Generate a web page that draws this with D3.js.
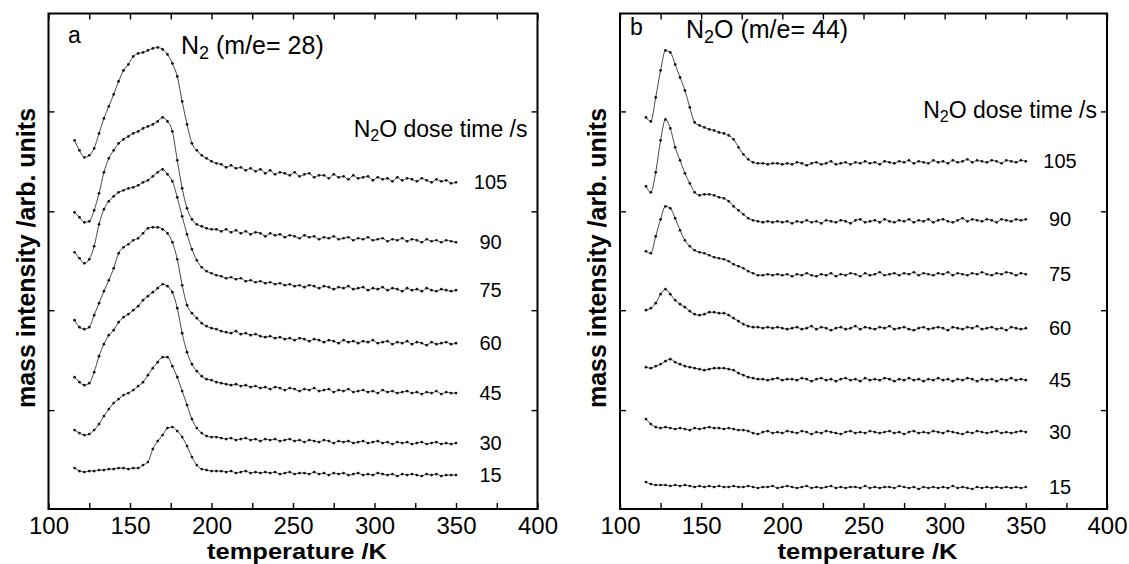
<!DOCTYPE html>
<html><head><meta charset="utf-8">
<script src="https://cdn.jsdelivr.net/npm/d3@7"></script>
<style>
html,body{margin:0;padding:0;background:#fff;}
svg{display:block;font-family:"Liberation Sans",Arial,Helvetica,sans-serif;}
</style></head><body>
<svg id="chart" width="1129" height="564"></svg>
<script>
// ---------- data ----------
const temperatures = [116,119,122,125,128,131,134,137,140,143,146,149,152,155,158,161,164,167,170,173,176,179,182,185,188,191,194,197,200,203,206,209,212,215,218,221,224,227,230,233,236,239,242,245,248,251,254,257,260,263,266,269,272,275,278,281,284,287,290,293,296,299,302,305,308,311,314,317,320,323,326,329,332,335,338,341,344,347,350];
const doseTimes = [105, 90, 75, 60, 45, 30, 15];

// panel a: N2 (m/e = 28), offset intensities (arb. units)
const n2_105 = [369,359,352,354,361,376,391,403,415,428,439,445,453,456,457,459,461,462,460,455,446,433,408,385,366,359,354,351,348,346,345,342,344,341,342,339,341,338,340,336,339,335,337,336,334,337,333,335,336,332,334,334,331,335,332,333,330,334,331,332,333,329,332,330,331,328,332,329,331,330,328,331,329,327,330,328,329,326,327];
const n2_90 = [297,292,287,288,299,316,337,351,359,366,370,373,376,378,381,383,385,388,392,388,378,349,321,301,290,285,283,281,280,280,278,280,277,279,276,278,275,277,276,273,276,274,275,272,274,273,271,274,272,273,270,272,271,273,270,271,272,269,271,270,272,269,270,271,268,270,269,271,268,270,269,267,270,268,269,267,269,268,267];
const n2_75 = [257,251,246,250,263,285,300,308,313,317,319,321,322,324,327,329,333,337,340,335,328,312,293,275,260,249,242,238,236,234,233,231,232,230,231,228,229,227,228,226,227,225,226,224,225,223,224,222,224,223,221,223,222,220,222,221,223,220,221,222,219,221,220,222,219,221,220,218,221,219,220,218,221,219,218,220,219,218,219];
const n2_60 = [189,182,180,182,194,206,218,229,241,256,262,265,269,271,276,281,282,282,280,276,267,250,224,204,196,191,186,183,181,180,178,177,176,178,175,176,174,175,173,172,173,171,172,170,171,169,171,170,168,170,169,167,169,168,166,169,167,168,166,168,167,169,166,167,168,165,167,166,168,165,167,166,164,167,165,166,167,165,166];
const n2_45 = [132,127,124,126,137,153,165,174,179,187,192,195,199,203,209,213,217,221,225,223,217,201,176,157,145,138,133,130,129,127,126,125,124,125,123,124,122,123,121,122,120,122,121,119,121,120,118,120,119,121,118,119,120,117,119,118,120,117,118,119,117,118,116,119,117,118,116,117,118,116,117,115,117,116,118,115,117,116,116];
const n2_30 = [79,76,74,75,79,85,93,100,106,110,114,116,119,123,127,134,141,147,152,152,143,132,118,104,90,81,76,73,72,72,71,70,71,69,70,71,69,70,68,70,69,70,68,69,70,68,69,67,69,68,67,69,68,66,68,67,68,66,67,68,66,67,68,66,67,65,67,66,67,65,66,67,65,66,67,65,66,65,66];
const n2_15 = [41,38,37,38,38,39,39,40,40,41,41,40,41,41,44,47,60,68,74,81,82,78,72,63,52,44,40,39,38,38,38,37,38,36,37,38,36,37,36,37,36,37,35,36,37,35,36,36,35,37,35,36,34,36,35,36,34,35,36,34,35,34,36,35,34,35,33,35,34,35,34,33,35,34,35,33,34,34,34];

// panel b: N2O (m/e = 44)
const n2o_105 = [392,388,412,439,459,457,445,432,419,402,387,384,382,380,379,377,376,374,370,362,355,350,347,346,346,345,346,346,345,346,345,347,346,344,346,347,345,346,348,345,346,347,345,347,346,348,346,347,345,348,347,346,348,347,349,346,348,347,346,349,347,348,346,349,347,348,350,347,349,348,347,349,348,346,349,348,347,349,348];
const n2o_90 = [323,317,337,369,390,381,362,349,336,326,317,314,315,315,314,312,311,308,303,299,295,291,289,288,287,288,287,288,287,288,286,288,287,289,287,288,286,289,288,287,289,288,286,289,290,287,288,289,287,290,288,287,289,288,290,287,289,288,290,287,289,290,288,287,289,291,288,290,289,288,290,289,287,290,289,288,290,289,290];
const n2o_75 = [258,256,273,290,303,301,291,279,269,263,259,257,256,254,252,251,250,248,245,243,241,238,236,234,234,235,234,235,234,235,233,235,234,236,234,233,235,234,236,233,235,234,236,235,233,236,234,235,237,234,235,236,234,236,235,237,234,236,235,234,236,235,237,234,236,235,234,236,235,237,235,234,236,235,237,236,234,236,235];
const n2o_60 = [199,201,206,215,220,215,209,205,202,198,195,194,195,197,197,196,196,194,191,188,185,183,182,182,181,182,181,182,181,180,181,182,180,181,183,180,182,181,179,181,182,180,181,183,180,182,181,180,182,181,183,180,181,182,180,179,181,182,180,181,182,181,179,182,181,180,182,181,183,180,181,182,180,181,179,182,181,180,181];
const n2o_45 = [142,141,143,145,148,150,147,145,143,142,141,140,139,140,141,141,141,140,139,136,134,132,131,130,130,129,130,131,129,130,130,129,131,130,128,130,131,129,130,128,130,131,129,130,128,131,129,130,129,131,130,128,130,129,131,129,130,128,130,129,131,129,130,128,130,129,131,130,128,130,129,130,128,130,129,131,129,130,129];
const n2o_30 = [90,85,82,81,82,81,80,81,80,79,81,80,81,82,81,81,80,81,80,79,79,78,76,75,77,78,76,77,76,78,77,76,78,77,75,77,76,78,77,76,75,77,78,76,77,76,78,77,76,77,78,76,77,75,77,78,76,77,76,78,77,76,78,77,76,75,77,76,78,77,76,77,78,76,77,76,77,78,77];
const n2o_15 = [27,25,24,24,24,23,24,23,24,23,22,23,22,23,22,23,22,22,23,22,22,23,22,21,22,22,23,21,22,23,22,21,22,23,21,22,21,22,23,21,22,21,22,22,21,23,21,22,21,22,22,21,23,22,21,22,20,22,21,22,21,22,21,23,21,22,21,20,22,21,22,21,22,21,22,21,22,21,22];

const xTickValues = [100,125,150,175,200,225,250,275,300,325,350,375,400];
const xLabelValues = [100,150,200,250,300,350,400];
const yTickValues = [99,199,298,398];

// ---------- layout ----------
const svg = d3.select('#chart');
const yTop = 13.5, yBot = 509;
const panels = [
  {letter:'a', x0:48.5, x1:537.5, sp:'N', spSub:'2', spRest:'', mz:' (m/e= 28)',
   series:[n2_105,n2_90,n2_75,n2_60,n2_45,n2_30,n2_15],
   letterX:68, letterY:43, titleX:181, titleY:54, doseY:137, yTitleX:35},
  {letter:'b', x0:620, x1:1107, sp:'N', spSub:'2', spRest:'O', mz:' (m/e= 44)',
   series:[n2o_105,n2o_90,n2o_75,n2o_60,n2o_45,n2o_30,n2o_15],
   letterX:630, letterY:35, titleX:686, titleY:38, doseY:118, yTitleX:606}
];

const y = d3.scaleLinear().domain([0,496]).range([yBot,yTop]);

panels.forEach(p => {
  const x = d3.scaleLinear().domain([100,400]).range([p.x0,p.x1]);
  const g = svg.append('g');

  // axes (ticks inward)
  const bottom = g.append('g').attr('transform',`translate(0,${yBot})`)
    .call(d3.axisBottom(x).tickValues(xTickValues).tickSize(-6).tickPadding(8)
      .tickFormat(d => xLabelValues.includes(d) ? d : ''));
  const top = g.append('g').attr('transform',`translate(0,${yTop})`)
    .call(d3.axisTop(x).tickValues(xTickValues).tickSize(-6).tickFormat(''));
  const left = g.append('g').attr('transform',`translate(${p.x0},0)`)
    .call(d3.axisLeft(y).tickValues(yTickValues).tickSize(-6).tickFormat(''));
  const right = g.append('g').attr('transform',`translate(${p.x1},0)`)
    .call(d3.axisRight(y).tickValues(yTickValues).tickSize(-6).tickFormat(''));
  [bottom,top,left,right].forEach(a => {
    a.select('.domain').remove();
    a.selectAll('.tick line').attr('stroke','#000').attr('stroke-width',1.4);
  });
  bottom.selectAll('.tick text').attr('font-size',24).attr('fill','#000')
    .attr('font-family','"Liberation Sans",Arial,sans-serif');

  // frame
  g.append('rect').attr('x',p.x0).attr('y',yTop).attr('width',p.x1-p.x0).attr('height',yBot-yTop)
    .attr('fill','none').attr('stroke','#000').attr('stroke-width',2);

  // curves
  const line = d3.line().x((d,i)=>x(temperatures[i])).y(d=>y(d)).curve(d3.curveMonotoneX);
  p.series.forEach((s,k) => {
    g.append('path').attr('d',line(s)).attr('fill','none').attr('stroke','#333').attr('stroke-width',0.9);
    g.append('g').selectAll('circle').data(s).join('circle')
      .attr('cx',(d,i)=>x(temperatures[i])).attr('cy',d=>y(d)).attr('r',1.35).attr('fill','#111');
    g.append('text').attr('x',p.x1-47).attr('y',y(s[s.length-1])+7)
      .attr('text-anchor','middle').attr('font-size',20).text(doseTimes[k]);
  });

  // panel letter
  g.append('text').attr('x',p.letterX).attr('y',p.letterY).attr('font-size',23).text(p.letter);

  // species title
  const t = g.append('text').attr('x',p.titleX).attr('y',p.titleY).attr('font-size',25);
  t.append('tspan').text(p.sp);
  t.append('tspan').attr('font-size',18).attr('dy',5).text(p.spSub);
  t.append('tspan').attr('dy',-5).text(p.spRest + p.mz);

  // dose legend title
  const dl = g.append('text').attr('x',p.x1-10).attr('y',p.doseY).attr('font-size',23).attr('text-anchor','end');
  dl.append('tspan').text('N');
  dl.append('tspan').attr('font-size',16).attr('dy',4).text('2');
  dl.append('tspan').attr('dy',-4).text('O dose time /s');

  // axis titles
  const cx = (p.x0+p.x1)/2 + 4;
  g.append('text').attr('x',cx-90).attr('y',559)
    .attr('textLength',180).attr('lengthAdjust','spacingAndGlyphs')
    .attr('font-size',22).attr('font-weight','bold').text('temperature /K');
  g.append('text').attr('transform',`translate(${p.yTitleX},258) rotate(-90)`).attr('text-anchor','middle')
    .attr('font-size',25).attr('font-weight','bold').text('mass intensity /arb. units');
});
</script>
</body></html>
